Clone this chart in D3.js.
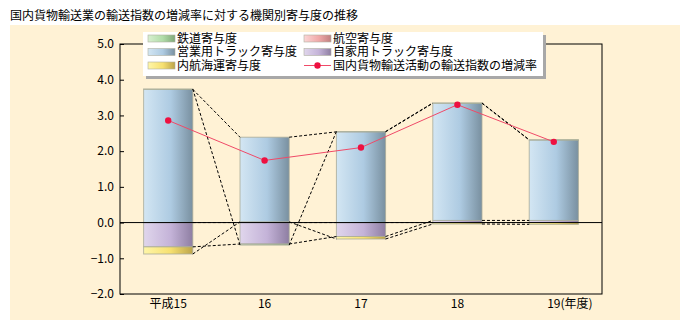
<!DOCTYPE html>
<html>
<head>
<meta charset="utf-8">
<script src="https://cdn.jsdelivr.net/npm/d3@7"></script>
<style>
  html, body { margin: 0; padding: 0; background: #ffffff; }
  svg { display: block; }
  text { font-family: "Noto Sans CJK JP", "Noto Sans", sans-serif; fill: #000; }
</style>
</head>
<body>
<svg id="chart" width="690" height="336"></svg>
<script>
// 年度（カテゴリ）
const categories = ["平成15", "16", "17", "18", "19"];
// 機関別寄与度（％ポイント）
const railContrib      = [0.01, -0.03, 0.01, 0.01, 0.01];   // 鉄道
const airContrib       = [0.00, 0.00, 0.00, 0.00, 0.00];    // 航空
const truckBizContrib  = [3.73, 2.37, 2.54, 3.28, 2.25];    // 営業用トラック
const truckOwnContrib  = [-0.68, -0.60, -0.39, 0.06, 0.06]; // 自家用トラック
const coastalContrib   = [-0.20, 0.02, -0.07, -0.04, -0.05];// 内航海運
// 国内貨物輸送活動の輸送指数の増減率（％）
const growthRate       = [2.86, 1.74, 2.10, 3.30, 2.26];
// 縦軸目盛
const yTicks = [-2, -1, 0, 1, 2, 3, 4, 5];
const unitLabel = "(年度)";
const titleText = "国内貨物輸送業の輸送指数の増減率に対する機関別寄与度の推移";

const svg = d3.select("#chart");
const defs = svg.append("defs");

// 背景
svg.append("rect").attr("x", 10).attr("y", 25).attr("width", 670).attr("height", 295).attr("fill", "#fff2d5");
svg.append("text").attr("x", 10).attr("y", 20).attr("font-size", 12).text(titleText);

const plot = { left: 120, right: 602, top: 44, bottom: 294 };
const x = d3.scaleBand().domain(categories).range([plot.left, plot.right]).paddingInner(0.49).paddingOuter(0.245);
const y = d3.scaleLinear().domain([-2, 5]).range([plot.bottom, plot.top]);

// 系列（積み上げ順）
const series = [
  { key: "own",     name: "自家用トラック寄与度", values: truckOwnContrib, stops: ["#e0d6ec", "#c4b3d8", "#8e7ea2"] },
  { key: "air",     name: "航空寄与度",           values: airContrib,      stops: ["#fbd6d6", "#f0a8a8", "#c08080"] },
  { key: "coastal", name: "内航海運寄与度",       values: coastalContrib,  stops: ["#fff6a8", "#f6e070", "#bca44a"] },
  { key: "biz",     name: "営業用トラック寄与度", values: truckBizContrib, stops: ["#d3e6f3", "#aecbe2", "#7990a0"] },
  { key: "rail",    name: "鉄道寄与度",           values: railContrib,     stops: ["#d8f0d0", "#b0dca8", "#80a878"] }
];

series.forEach(s => {
  const g = defs.append("linearGradient").attr("id", "grad-" + s.key).attr("x1", 0).attr("x2", 1).attr("y1", 0).attr("y2", 0);
  g.append("stop").attr("offset", "0%").attr("stop-color", s.stops[0]);
  g.append("stop").attr("offset", "55%").attr("stop-color", s.stops[1]);
  g.append("stop").attr("offset", "100%").attr("stop-color", s.stops[2]);
});

const rows = categories.map((c, i) => {
  const r = { cat: c };
  series.forEach(s => r[s.key] = s.values[i]);
  return r;
});
const stacked = d3.stack().keys(series.map(s => s.key)).offset(d3.stackOffsetDiverging)(rows);

// 枠
svg.append("rect").attr("x", plot.left).attr("y", plot.top)
  .attr("width", plot.right - plot.left).attr("height", plot.bottom - plot.top)
  .attr("fill", "#fff2d5").attr("stroke", "#000").attr("stroke-width", 1);

// 縦軸
const yAxis = d3.axisLeft(y).tickValues(yTicks).tickFormat(d3.format(".1f")).tickSize(-4).tickPadding(6);
const gy = svg.append("g").attr("transform", `translate(${plot.left},0)`).call(yAxis);
gy.select(".domain").remove();
gy.selectAll(".tick line").attr("stroke", "#000");
gy.selectAll(".tick text").attr("font-size", 12).attr("font-family", "Liberation Sans, Noto Sans, sans-serif");

// 棒
stacked.forEach((layer, li) => {
  const s = series[li];
  svg.append("g").selectAll("rect").data(layer).join("rect")
    .attr("x", d => x(d.data.cat))
    .attr("width", x.bandwidth())
    .attr("y", d => y(d[1]))
    .attr("height", d => Math.max(0, y(d[0]) - y(d[1])))
    .attr("fill", `url(#grad-${s.key})`)
    .attr("stroke", "#a8aa98").attr("stroke-opacity", 0.8).attr("stroke-width", 1);
});

// 区分線（系列線）
const endOf = d => (d[1] > 0 ? d[1] : d[0]);
const sl = svg.append("g").attr("fill", "none").attr("stroke", "#000").attr("stroke-width", 1).attr("stroke-dasharray", "3,2");
stacked.forEach(layer => {
  for (let i = 0; i < layer.length - 1; i++) {
    const a = layer[i], b = layer[i + 1];
    sl.append("line")
      .attr("x1", x(a.data.cat) + x.bandwidth()).attr("y1", y(endOf(a)))
      .attr("x2", x(b.data.cat)).attr("y2", y(endOf(b)));
  }
});

// ゼロ線
svg.append("line").attr("x1", plot.left).attr("x2", plot.right).attr("y1", y(0)).attr("y2", y(0))
  .attr("stroke", "#000").attr("stroke-width", 1);

// 増減率の折れ線
const lineGen = d3.line().x((d, i) => x(categories[i]) + x.bandwidth() / 2).y(d => y(d));
svg.append("path").datum(growthRate).attr("d", lineGen)
  .attr("fill", "none").attr("stroke", "#f04a68").attr("stroke-width", 1);
svg.append("g").selectAll("circle").data(growthRate).join("circle")
  .attr("cx", (d, i) => x(categories[i]) + x.bandwidth() / 2)
  .attr("cy", d => y(d)).attr("r", 3.2).attr("fill", "#ee1040");

// 横軸ラベル
const xl = svg.append("g").attr("font-size", 12);
categories.forEach((c, i) => {
  const cx = x(c) + x.bandwidth() / 2;
  if (i < categories.length - 1) {
    xl.append("text").attr("x", cx).attr("y", 308).attr("text-anchor", "middle").text(c);
  } else {
    const t = xl.append("text").attr("y", 308).attr("text-anchor", "start");
    t.append("tspan").text(c);
    const w = t.node().getComputedTextLength();
    t.attr("x", cx - w / 2);
    t.append("tspan").text(unitLabel);
  }
});

// 凡例
const leg = svg.append("g");
leg.append("rect").attr("x", 146).attr("y", 35).attr("width", 400).attr("height", 44).attr("fill", "#a8a8a8");
leg.append("rect").attr("x", 143).attr("y", 32).attr("width", 400).attr("height", 44).attr("fill", "#fff");
const legendOrder = ["rail", "air", "biz", "own", "coastal"];
legendOrder.forEach((k, i) => {
  const s = series.find(v => v.key === k);
  const col = i % 2, row = Math.floor(i / 2);
  const lx = col === 0 ? 148 : 304, ly = 38.5 + row * 13.5;
  leg.append("rect").attr("x", lx).attr("y", ly - 3.5).attr("width", 27).attr("height", 7)
    .attr("fill", `url(#grad-${k})`).attr("stroke", "#b0b0a0").attr("stroke-width", 0.6);
  leg.append("text").attr("x", lx + 29).attr("y", ly).attr("dy", "0.36em").attr("font-size", 12).text(s.name);
});
{
  const lx = 304, ly = 38.5 + 2 * 13.5;
  leg.append("line").attr("x1", lx).attr("x2", lx + 27).attr("y1", ly).attr("y2", ly).attr("stroke", "#f04a68");
  leg.append("circle").attr("cx", lx + 13.5).attr("cy", ly).attr("r", 3.2).attr("fill", "#ee1040");
  leg.append("text").attr("x", lx + 29).attr("y", ly).attr("dy", "0.36em").attr("font-size", 12).text("国内貨物輸送活動の輸送指数の増減率");
}
</script>
</body>
</html>
